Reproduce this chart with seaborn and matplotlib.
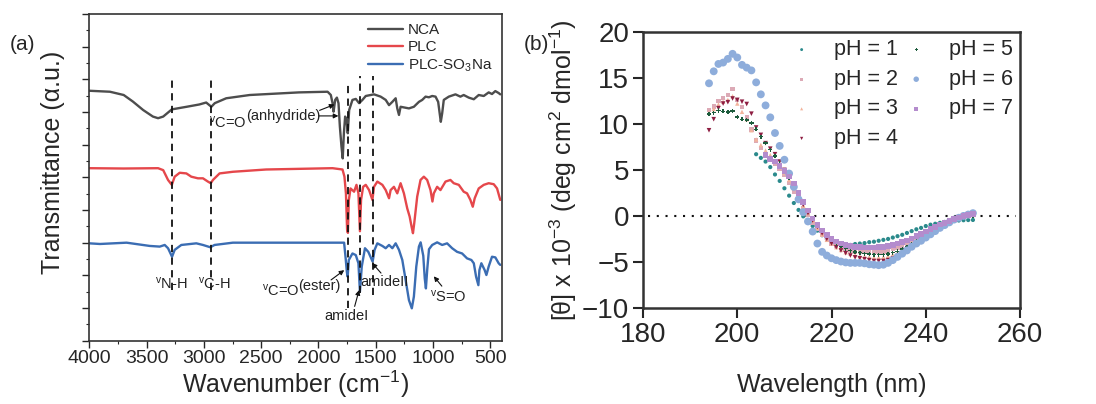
"""(a) FTIR spectra of NCA / PLC / PLC-SO3Na, (b) CD spectra at pH 1-7."""
import numpy as np
import matplotlib
matplotlib.use("Agg")
import matplotlib.pyplot as plt
from matplotlib.ticker import MultipleLocator
import seaborn as sns

# ---------------- (a) FTIR data (wavenumber, offset transmittance) ----------------
nca_wn = [4000, 3820, 3700, 3620, 3530, 3445, 3400, 3355, 3280, 3150,
          3040, 2980, 2935, 2905, 2805, 2600, 2170, 1920, 1892, 1877,
          1868, 1854, 1839, 1825, 1813, 1799, 1788, 1778, 1767, 1755,
          1744, 1732, 1703, 1674, 1645, 1616, 1587, 1515, 1457, 1413,
          1384, 1355, 1326, 1312, 1297, 1283, 1254, 1210, 1167, 1123,
          1094, 1065, 1036, 1007, 978, 955, 940, 932, 920, 906,
          862, 804, 761, 732, 688, 644, 601, 557, 514, 485,
          456, 427, 413]
nca_t = [7.65, 7.62, 7.52, 7.32, 7.06, 6.86, 6.81, 6.86, 7.08, 7.16,
         7.23, 7.29, 7.16, 7.27, 7.42, 7.52, 7.60, 7.62, 7.52, 7.27,
         7.01, 7.37, 7.44, 7.27, 6.55, 5.94, 5.58, 6.35, 6.86, 6.76,
         6.35, 7.06, 7.37, 7.40, 7.27, 7.37, 7.49, 7.54, 7.47, 7.37,
         7.21, 7.31, 7.42, 7.11, 6.91, 7.16, 7.14, 7.11, 7.16, 7.31,
         7.37, 7.47, 7.45, 7.49, 7.47, 7.31, 6.91, 6.70, 6.96, 7.37,
         7.47, 7.54, 7.47, 7.52, 7.44, 7.39, 7.52, 7.49, 7.60, 7.55,
         7.64, 7.58, 7.54]

plc_wn = [4000, 3700, 3400, 3355, 3313, 3280, 3255, 3211, 3153, 3110,
          3052, 3008, 2965, 2940, 2921, 2863, 2747, 2457, 1877, 1790,
          1773, 1760, 1750, 1743, 1735, 1720, 1689, 1668, 1651, 1638,
          1628, 1610, 1587, 1558, 1529, 1515, 1486, 1442, 1413, 1384,
          1370, 1341, 1312, 1283, 1254, 1225, 1204, 1187, 1175, 1164,
          1138, 1109, 1080, 1051, 1022, 1005, 993, 964, 935, 891,
          848, 819, 775, 732, 703, 674, 653, 636, 601, 557,
          514, 470, 441, 413]
plc_t = [5.28, 5.27, 5.28, 5.22, 4.92, 4.77, 5.02, 5.14, 5.12, 5.02,
         4.97, 4.97, 4.87, 4.82, 4.92, 5.12, 5.17, 5.24, 5.28, 5.24,
         5.02, 4.50, 3.40, 3.30, 4.30, 4.66, 4.56, 4.77, 4.51, 3.35,
         4.31, 4.71, 4.77, 4.61, 4.31, 4.71, 4.87, 4.77, 4.61, 4.36,
         4.61, 4.71, 4.51, 4.82, 4.51, 4.05, 3.80, 3.49, 3.29, 3.59,
         4.41, 4.92, 5.02, 4.92, 4.61, 4.26, 4.51, 4.71, 4.61, 4.87,
         4.92, 4.82, 4.77, 4.56, 4.51, 4.31, 4.10, 4.36, 4.66, 4.77,
         4.82, 4.79, 4.66, 4.31]

sna_wn = [4000, 3907, 3675, 3472, 3385, 3342, 3313, 3278, 3255, 3197,
          3066, 3008, 2944, 2907, 2747, 1877, 1776, 1762, 1752, 1745,
          1735, 1703, 1674, 1651, 1638, 1622, 1594, 1565, 1527, 1510,
          1486, 1442, 1413, 1384, 1355, 1326, 1297, 1268, 1239, 1210,
          1185, 1167, 1146, 1123, 1108, 1085, 1072, 1062, 1050, 1035,
          1007, 964, 920, 877, 833, 790, 746, 703, 665, 644,
          624, 604, 595, 578, 549, 534, 514, 485, 456, 427, 413]
sna_t = [2.98, 2.96, 3.00, 2.90, 2.88, 2.93, 2.83, 2.57, 2.78, 2.93,
         2.98, 2.93, 2.86, 2.93, 3.00, 3.00, 3.00, 2.50, 2.10, 1.96,
         2.47, 2.67, 2.62, 2.37, 1.50, 2.27, 2.83, 2.72, 2.42, 2.78,
         2.98, 2.90, 2.83, 2.93, 2.83, 2.98, 2.78, 2.47, 1.86, 1.24,
         0.99, 1.35, 2.27, 2.88, 3.01, 2.60, 1.90, 1.60, 2.20, 2.80,
         2.93, 3.01, 2.93, 2.98, 2.83, 2.72, 2.67, 2.52, 2.47, 2.37,
         1.96, 1.70, 2.16, 2.37, 2.16, 2.01, 2.27, 2.57, 2.55, 2.37, 2.32]

# dashed guide lines at characteristic bands
peak_wn = [3280, 2935, 1745, 1638, 1527]
peak_lo = [1.55, 1.55, 1.00, 1.45, 1.40]
peak_hi = [8.00, 8.10, 7.90, 8.10, 8.10]

# ---------------- (b) CD data, 1 nm steps ----------------
nm_full = np.arange(194, 251)
ph1 = [6.7, 6.3, 5.9, 5.3, 4.5, 3.8, 3.0, 2.2, 1.4, 0.65,
       -0.05, -0.6, -1.1, -1.6, -2.1, -2.5, -2.8, -3.0, -3.15, -3.2,
       -3.15, -3.05, -3.0, -2.95, -2.85, -2.8, -2.7, -2.6, -2.5, -2.35,
       -2.2, -2.05, -1.85, -1.65, -1.45, -1.3, -1.1, -0.95, -0.85, -0.75,
       -0.65, -0.58, -0.53, -0.5, -0.47, -0.45, -0.44]            # from 204 nm
ph2 = [11.5, 11.9, 12.5, 12.8, 13.1, 13.8, 12.6, 11.8, 10.7, 9.4,
       8.2, 7.4, 6.7, 6.2, 5.7, 5.1, 4.5, 3.6, 2.6, 1.7,
       0.8, 0.1, -0.7, -1.4, -2.1, -2.6, -3.0, -3.3, -3.5, -3.65,
       -3.75, -3.85, -3.9, -3.95, -3.95, -3.95, -3.9, -3.85, -3.75, -3.6,
       -3.45, -3.25, -3.05, -2.85, -2.6, -2.35, -2.1, -1.8, -1.5, -1.2,
       -0.95, -0.7, -0.45, -0.25, -0.1, 0.0, 0.1]
ph3 = [11.2, 11.6, 12.1, 12.4, 12.6, 13.0, 12.2, 11.3, 10.5, 9.3,
       8.3, 7.7, 7.1, 6.6, 6.0, 5.4, 4.7, 3.9, 3.0, 2.0,
       1.1, 0.3, -0.5, -1.3, -2.0, -2.6, -3.0, -3.4, -3.7, -3.95,
       -4.1, -4.25, -4.35, -4.4, -4.45, -4.5, -4.5, -4.45, -4.35, -4.2,
       -4.0, -3.75, -3.5, -3.2, -2.9, -2.55, -2.25, -1.9, -1.6, -1.3,
       -1.0, -0.7, -0.45, -0.25, -0.1, 0.0, 0.1]
ph4 = [9.3, 10.5, 11.7, 12.2, 12.35, 12.75, 12.6, 12.4, 12.15, 11.1,
       9.6, 8.8, 7.9, 7.3, 6.7, 5.9, 5.0, 4.2, 3.2, 2.2,
       1.2, 0.3, -0.5, -1.2, -1.9, -2.5, -3.0, -3.4, -3.75, -4.05,
       -4.3, -4.5, -4.6, -4.7, -4.8, -4.9, -4.9, -4.9, -4.8, -4.6,
       -4.35, -4.05, -3.7, -3.35, -3.0, -2.6, -2.25, -1.9, -1.55, -1.2,
       -0.9, -0.6, -0.35, -0.15, 0.0, 0.1, 0.15]
ph5 = [11.05, 11.2, 11.45, 11.35, 11.3, 11.4, 10.75, 10.5, 10.4, 10.1,
       9.4, 8.6, 7.9, 7.2, 6.5, 5.7, 4.9, 4.1, 3.2, 2.3,
       1.4, 0.5, -0.3, -1.0, -1.6, -2.1, -2.6, -3.0, -3.3, -3.55,
       -3.75, -3.9, -4.0, -4.1, -4.15, -4.2, -4.2, -4.2, -4.15, -4.0,
       -3.85, -3.6, -3.35, -3.05, -2.75, -2.45, -2.15, -1.85, -1.55, -1.25,
       -0.95, -0.7, -0.45, -0.25, -0.1, 0.0, 0.05]
ph6 = [14.4, 15.7, 16.5, 16.65, 17.05, 17.6, 17.2, 16.4, 16.1, 15.8,
       14.5, 13.2, 12.0, 10.7, 9.0, 7.6, 6.1, 4.6, 3.15, 1.8,
       0.4, -0.6, -1.7, -3.0, -3.9, -4.3, -4.6, -4.8, -4.95, -5.05,
       -5.1, -5.1, -5.1, -5.15, -5.25, -5.3, -5.35, -5.3, -5.1, -4.8,
       -4.45, -4.1, -3.75, -3.35, -3.0, -2.7, -2.35, -2.0, -1.65, -1.3,
       -1.0, -0.7, -0.4, -0.2, 0.0, 0.15, 0.3]
ph7 = [6.6, 6.2, 5.9, 5.4, 4.9, 4.3, 3.5, 2.5, 1.5, 0.6,
       -0.3, -1.0, -1.6, -2.1, -2.5, -2.8, -3.0, -3.15, -3.25, -3.35,
       -3.4, -3.45, -3.45, -3.45, -3.4, -3.35, -3.25, -3.15, -3.0, -2.85,
       -2.65, -2.45, -2.2, -1.95, -1.7, -1.45, -1.2, -0.95, -0.75, -0.55,
       -0.35, -0.15, 0.0, 0.1, 0.2]                                 # from 206 nm

ph_labels = ["pH = 1", "pH = 2", "pH = 3", "pH = 4", "pH = 5", "pH = 6", "pH = 7"]
ph_values = [ph1, ph2, ph3, ph4, ph5, ph6, ph7]
ph_colors = ["#2b8a8c", "#dcaab6", "#f3b49c", "#8e1e42", "#1d5c3c", "#8eaddb", "#b48ccd"]
ph_markers = ["o", "s", "^", "v", "P", "o", "s"]
ph_sizes = [9, 10, 10, 11, 9, 32, 16]

TXT = "#262626"
sns.set_theme(style="ticks")
plt.rcParams.update({
    "font.family": ["Liberation Sans", "DejaVu Sans"],
    "mathtext.fontset": "custom",
    "mathtext.rm": "Liberation Sans",
    "mathtext.it": "Liberation Sans:italic",
    "mathtext.bf": "Liberation Sans:bold",
    "text.color": TXT, "axes.labelcolor": TXT,
    "xtick.color": TXT, "ytick.color": TXT,
    "axes.edgecolor": "#333333",
})

fig = plt.figure(figsize=(10.96, 4.04), dpi=100)
ax1 = fig.add_axes([0.0815, 0.1567, 0.3763, 0.8087])
ax2 = fig.add_axes([0.5867, 0.2376, 0.3440, 0.6839])

# ---------------- panel (a) ----------------
for wn, t, col, lab in [(nca_wn, nca_t, "#4d4d4d", "NCA"),
                        (plc_wn, plc_t, "#e5474b", "PLC"),
                        (sna_wn, sna_t, "#3b6db3", "PLC-SO$_3$Na")]:
    sns.lineplot(x=wn, y=t, ax=ax1, color=col, lw=1.7, sort=False,
                 estimator=None, label=lab)

ax1.vlines(peak_wn, peak_lo, peak_hi, colors="#111111", linestyles=(0, (4, 3)),
           lw=1.3, zorder=4)

ax1.set_xlim(4000, 400)
ax1.set_ylim(0, 10)
ax1.set_xticks(range(4000, 499, -500))
ax1.xaxis.set_minor_locator(MultipleLocator(250))
ax1.yaxis.set_major_locator(MultipleLocator(1))
ax1.yaxis.set_minor_locator(MultipleLocator(0.5))
ax1.tick_params(which="major", direction="out", length=5, width=1.0, labelsize=14, pad=2)
ax1.tick_params(which="minor", direction="out", length=2.5, width=0.8)
ax1.tick_params(axis="y", labelleft=False)
for sp in ax1.spines.values():
    sp.set_linewidth(1.2)
ax1.set_xlabel("Wavenumber (cm$^{-1}$)", fontsize=18)
ax1.set_ylabel("Transmittance (α.u.)", fontsize=18)
ax1.xaxis.set_label_coords(0.5, -0.085)
ax1.yaxis.set_label_coords(-0.06, 0.547)
ax1.legend(loc="upper right", frameon=False, fontsize=11, handlelength=2.3,
           handletextpad=0.3, labelspacing=0.2, borderaxespad=0.3, borderpad=0.3)

ann = dict(fontsize=10.5, color="#222222")
ax1.text(3285, 1.75, r"${}^{\mathregular{v}}$N-H", ha="center", va="center", **ann)
ax1.text(2906, 1.75, r"${}^{\mathregular{v}}$C-H", ha="center", va="center", **ann)
ax1.text(2957, 6.69, r"${}^{\mathregular{v}}$C=O", ha="left", va="center", **ann)
ax1.text(2635, 6.87, "(anhydride)", ha="left", va="center", **ann)
ax1.text(2489, 1.54, r"${}^{\mathregular{v}}$C=O", ha="left", va="center", **ann)
ax1.text(2175, 1.68, "(ester)", ha="left", va="center", **ann)
ax1.text(1759, 0.76, "amideI", ha="center", va="center", **ann)
ax1.text(1419, 1.80, "amideII", ha="center", va="center", **ann)
ax1.text(862, 1.34, r"${}^{\mathregular{v}}$S=O", ha="center", va="center", **ann)

arrow = dict(arrowstyle="-|>", color="#111111", lw=0.8, mutation_scale=7,
             shrinkA=0, shrinkB=0)
for tail, head in [((1990, 7.05), (1860, 7.23)), ((1995, 6.88), (1826, 6.88)),
                   ((1890, 1.86), (1775, 2.16)), ((1684, 1.05), (1645, 1.55)),
                   ((1454, 2.07), (1532, 2.38)), ((923, 1.67), (993, 1.97))]:
    ax1.annotate("", xy=head, xytext=tail, arrowprops=arrow)

# ---------------- panel (b) ----------------
ax2.axhline(0, xmin=0.012, xmax=0.988, color="#111111", lw=1.5,
            linestyle=(0, (1, 3.2)), zorder=1)
for lab, vals, col, mk, sz in zip(ph_labels, ph_values, ph_colors, ph_markers, ph_sizes):
    x = nm_full[len(nm_full) - len(vals):]
    sns.scatterplot(x=x, y=vals, ax=ax2, color=col, marker=mk, s=sz,
                    edgecolor="none", linewidth=0, label=lab, zorder=3)

ax2.set_xlim(180, 260)
ax2.set_ylim(-10, 20)
ax2.set_xticks(range(180, 261, 20))
ax2.set_yticks(range(-10, 21, 5))
ax2.tick_params(direction="out", length=7, width=1.5, labelsize=20, pad=3)
for sp in ax2.spines.values():
    sp.set_linewidth(1.8)
ax2.set_xlabel("Wavelength (nm)", fontsize=18)
ax2.set_ylabel(r"[θ] x 10$^{-3}$ (deg cm$^{2}$ dmol$^{-1}$)", fontsize=18)
ax2.xaxis.set_label_coords(0.5, -0.235)
ax2.yaxis.set_label_coords(-0.17, 0.5)
ax2.legend(ncol=2, loc="upper right", frameon=False, fontsize=15.5, handlelength=1.0,
           handletextpad=1.0, columnspacing=0.35, labelspacing=0.4,
           borderaxespad=0.05, borderpad=0.3, markerscale=0.7)

fig.text(0.009, 1 - 45 / 404, "(a)", fontsize=15, va="center", ha="left")
fig.text(0.478, 1 - 44 / 404, "(b)", fontsize=15, va="center", ha="left")

fig.savefig("out.png", dpi=100)
